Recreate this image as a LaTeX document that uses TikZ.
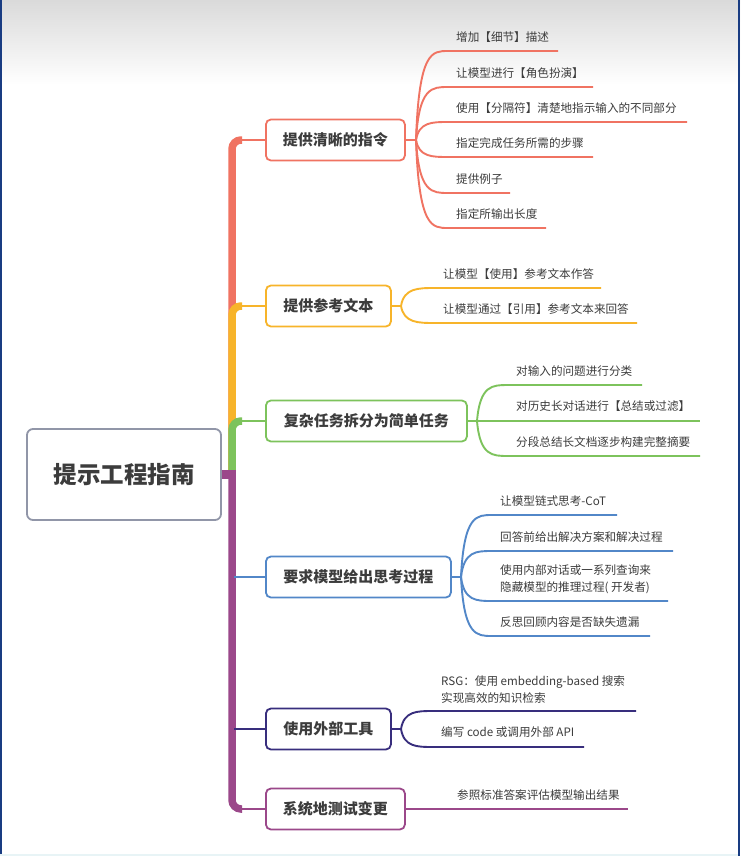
\documentclass[tikz,border=0pt]{standalone}
\usepackage{fontspec}
\setmainfont{Noto Sans CJK SC}
\usetikzlibrary{calc}
\definecolor{cRed}{RGB}{240,115,98}
\definecolor{cOrange}{RGB}{247,180,42}
\definecolor{cGreen}{RGB}{125,195,92}
\definecolor{cBlue}{RGB}{82,135,200}
\definecolor{cIndigo}{RGB}{56,46,125}
\definecolor{cPurple}{RGB}{155,72,138}
\definecolor{cGrayBox}{RGB}{145,150,168}
\definecolor{cText}{RGB}{60,60,60}
\definecolor{cNavy}{RGB}{25,60,130}
\definecolor{cTopGray}{RGB}{218,218,218}
\definecolor{cBottomLine}{RGB}{232,244,246}
\newcommand\leaf[8]{% color, stub, id, xs, y, xe, dy, text
  \coordinate (#3s) at (#4,#5);
  \coordinate (#3e) at (#6,#5);
  \draw[leafline=#1] (#2) .. controls ($(#2|-#3s)+(3,0)$) and ($(#2|-#3s)!0.5!(#3s)$) .. (#3s) -- (#3e);
  \node[leaftext, anchor=west] (#3) at ($(#3s)+(8,-#7)$) {#8};
}
\begin{document}
\begin{tikzpicture}[x=1pt,y=-1pt,
  trunk/.style={draw=#1, line width=7.5pt, rounded corners=9pt},
  conn/.style={draw=#1, line width=1.8pt},
  leafline/.style={draw=#1, line width=1.9pt},
  branchbox/.style={draw=#1, line width=1.8pt, fill=white, rounded corners=5pt,
    minimum height=41pt, inner sep=0pt, font=\fontsize{15}{18}\selectfont\bfseries, text=cText, anchor=west},
  leaftext/.style={inner sep=0pt, font=\fontsize{11.6}{17}\selectfont, text=cText, align=left},
]
\useasboundingbox (0,0) rectangle (740,856);
\fill[white] (0,0) rectangle (740,856);
\shade[top color=cTopGray, bottom color=white] (0,0) rectangle (740,85);
\fill[cNavy] (0,0) rectangle (1.5,856);
\fill[cNavy] (737.5,0) rectangle (740,856);
\fill[cBottomLine] (0,854) rectangle (737.5,856);

% central node
\node[draw=cGrayBox, line width=1.8pt, fill=white, rounded corners=6pt,
  minimum width=194pt, minimum height=91pt, inner sep=0pt,
  font=\fontsize{23.5}{28}\selectfont\bfseries, text=cText] (c) at (124,474.5) {提示工程指南};

% trunk
\draw[trunk=cRed] (232,474) |- (242,140);
\draw[trunk=cOrange] (232,474) |- (242,306);
\draw[trunk=cGreen] (232,474) |- (242,421);
\draw[trunk=cPurple] (232,470) |- (242,809);
\draw[cPurple, line width=9pt] (c.east) -- (233,474.5);

% branch boxes
\node[branchbox=cRed, minimum width=139pt] (b1) at (265,140) {提供清晰的指令};
\node[branchbox=cOrange, minimum width=125pt] (b2) at (265,306) {提供参考文本};
\node[branchbox=cGreen, minimum width=201pt] (b3) at (265,421) {复杂任务拆分为简单任务};
\node[branchbox=cBlue, minimum width=185pt] (b4) at (265,577) {要求模型给出思考过程};
\node[branchbox=cIndigo, minimum width=125pt] (b5) at (265,729) {使用外部工具};
\node[branchbox=cPurple, minimum width=139pt] (b6) at (265,809) {系统地测试变更};

% trunk-to-box connectors
\coordinate (t1) at (234,140);
\coordinate (t2) at (234,306);
\coordinate (t3) at (234,421);
\coordinate (t4) at (234,577);
\coordinate (t5) at (234,729);
\coordinate (t6) at (234,809);
\draw[conn=cRed] (t1) -- (b1.west);
\draw[conn=cOrange] (t2) -- (b2.west);
\draw[conn=cGreen] (t3) -- (b3.west);
\draw[conn=cBlue] (t4) -- (b4.west);
\draw[conn=cIndigo] (t5) -- (b5.west);
\draw[conn=cPurple] (t6) -- (b6.west);

% stubs
\coordinate (S1) at (416,140);
\coordinate (S2) at (401,306);
\coordinate (S3) at (477,421);
\coordinate (S4) at (461,577);
\coordinate (S5) at (401,729);
\draw[conn=cRed] (b1.east) -- (S1);
\draw[conn=cOrange] (b2.east) -- (S2);
\draw[conn=cGreen] (b3.east) -- (S3);
\draw[conn=cBlue] (b4.east) -- (S4);
\draw[conn=cIndigo] (b5.east) -- (S5);

% branch 1 leaves
\leaf{cRed}{S1}{L11}{448}{51}{558}{13.5}{增加【细节】描述}
\leaf{cRed}{S1}{L12}{448}{87}{593}{13.5}{让模型进行【角色扮演】}
\leaf{cRed}{S1}{L13}{448}{122}{687}{13.5}{使用【分隔符】清楚地指示输入的不同部分}
\leaf{cRed}{S1}{L14}{448}{157}{593}{13.5}{指定完成任务所需的步骤}
\leaf{cRed}{S1}{L15}{448}{193}{510}{13.5}{提供例子}
\leaf{cRed}{S1}{L16}{448}{228}{546}{13.5}{指定所输出长度}

% branch 2 leaves
\leaf{cOrange}{S2}{L21}{435}{288}{601}{13.5}{让模型【使用】参考文本作答}
\leaf{cOrange}{S2}{L22}{435}{323}{637}{13.5}{让模型通过【引用】参考文本来回答}

% branch 3 leaves
\leaf{cGreen}{S3}{L31}{508}{385}{642}{13.5}{对输入的问题进行分类}
\leaf{cGreen}{S3}{L32}{508}{421}{700}{14.5}{对历史长对话进行【总结或过滤】}
\leaf{cGreen}{S3}{L33}{508}{456}{700}{13.5}{分段总结长文档逐步构建完整摘要}

% branch 4 leaves
\leaf{cBlue}{S4}{L41}{492}{515}{617}{13.5}{让模型链式思考-CoT}
\leaf{cBlue}{S4}{L42}{492}{551}{673}{14}{回答前给出解决方案和解决过程}
\leaf{cBlue}{S4}{L43}{492}{601}{668}{21.5}{使用内部对话或一系列查询来\\隐藏模型的推理过程( 开发者)}
\leaf{cBlue}{S4}{L44}{492}{636}{650}{13.5}{反思回顾内容是否缺失遗漏}

% branch 5 leaves
\leaf{cIndigo}{S5}{L51}{433}{711}{636}{21}{RSG：使用 embedding-based 搜索\\实现高效的知识检索}
\leaf{cIndigo}{S5}{L52}{433}{747}{584}{15}{编写 code 或调用外部 API}

% branch 6 leaf
\coordinate (L61e) at (628,809);
\draw[conn=cPurple] (b6.east) -- (L61e);
\node[leaftext, anchor=west] (L61) at (457,795) {参照标准答案评估模型输出结果};
\end{tikzpicture}
\end{document}
